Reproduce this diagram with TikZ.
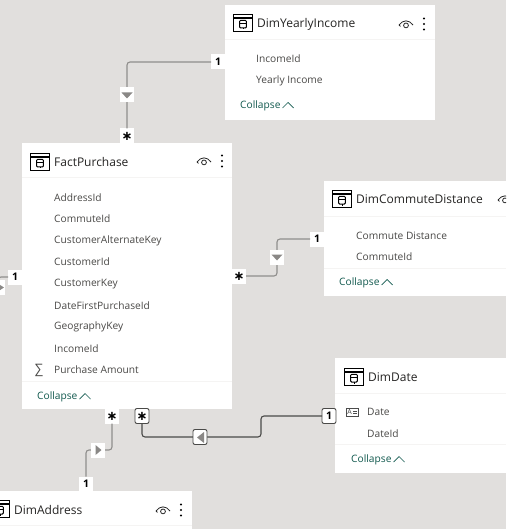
\documentclass[tikz,border=0pt]{standalone}
\usepackage{fontspec}
\setmainfont{Open Sans}
\newfontfamily\djv{DejaVu Sans}
\definecolor{canvas}{HTML}{E1DFDD}
\definecolor{rowtxt}{HTML}{4A4947}
\definecolor{titletxt}{HTML}{252423}
\definecolor{teal}{HTML}{11594E}
\definecolor{rule}{HTML}{F5F4F3}
\definecolor{relgray}{HTML}{8F8E8C}
\definecolor{reldark}{HTML}{4A4A48}
\definecolor{trigray}{HTML}{8A8886}
\tikzset{
  x=1pt,y=-1pt,
  card/.style={fill=white,draw=none,anchor=north west,inner sep=0pt,outer sep=0pt},
  titletext/.style={anchor=west,inner sep=0pt,yshift=-1pt,text=titletxt,font=\fontsize{12}{14}\selectfont},
  rowtext/.style={anchor=west,inner sep=0pt,yshift=-1pt,text=rowtxt,font=\fontsize{10.2}{12}\selectfont},
  collapsetext/.style={anchor=west,inner sep=0pt,yshift=-1pt,text=teal,font=\fontsize{10.2}{12}\selectfont},
  divider/.style={draw=rule,line width=1pt},
  rel/.style={draw=relgray,line width=1.1pt,rounded corners=3pt},
  reldk/.style={draw=reldark,line width=1.1pt,rounded corners=3pt},
  lab/.style={fill=white,inner sep=0pt,outer sep=0pt,minimum width=14pt,minimum height=15pt,text=black,font=\fontsize{10.5}{12}\selectfont\bfseries},
  labdk/.style={lab,draw=reldark,line width=0.9pt,rounded corners=2pt},
  btn/.style={fill=white,inner sep=0pt,outer sep=0pt,minimum width=14pt,minimum height=15pt},
  btndk/.style={btn,draw=reldark,line width=0.9pt,rounded corners=2pt},
  tableicon/.pic={
    \draw[black,line width=1.5pt] (-9.3,-8.3) rectangle (9.3,8.3);
    \draw[black,line width=1.3pt] (-9,-5) -- (9,-5);
    \draw[black,line width=1pt,rounded corners=1pt] (-3.4,-2.6) rectangle (3.4,5);
    \draw[black,line width=0.8pt] (-3.4,0) -- (3.4,0);
    \draw[black,line width=0.8pt] (0,5) -- (0,6.5);
  },
  eyeicon/.pic={
    \draw[black!85,line width=0.8pt] (-7,1) .. controls (-3,-4.5) and (3,-4.5) .. (7,1);
    \draw[black!85,line width=0.8pt] (-7,1) -- (-5.5,2.4);
    \draw[black!85,line width=0.8pt] (0,1.4) circle (2.4);
  },
  dotsicon/.pic={
    \fill[black] (0,-5.5) circle (1.1) (0,0) circle (1.1) (0,5.5) circle (1.1);
  },
  chevronicon/.pic={
    \draw[teal,line width=0.7pt] (-5.5,3) -- (0,-2.5) -- (5.5,3);
  }
}
\newcommand{\stargl}{{\djv\fontsize{13}{13}\selectfont\bfseries ∗}}
\begin{document}
\begin{tikzpicture}
\useasboundingbox (0,0) rectangle (506,529);
\clip (0,0) rectangle (506,529);
\fill[canvas] (0,0) rectangle (506,529);

% cards
\node[card,minimum width=210pt,minimum height=115pt] (income) at (225,5) {};
\node[card,minimum width=210pt,minimum height=266pt] (fact) at (22,143) {};
\node[card,minimum width=210pt,minimum height=115pt] (commute) at (324,181) {};
\node[card,minimum width=210pt,minimum height=115pt] (date) at (335,358) {};
\node[card,minimum width=202pt,minimum height=60pt] (address) at (-10,491) {};

% dividers
\draw[divider] (225,40) -- (435,40);
\draw[divider] (22,178) -- (232,178);
\draw[divider] (22,381) -- (232,381);
\draw[divider] (324,216) -- (506,216);
\draw[divider] (324,268) -- (506,268);
\draw[divider] (335,393) -- (506,393);
\draw[divider] (335,444) -- (506,444);
\draw[divider] (0,525) -- (192,525);

% titles and icons
\pic at (243,23) {tableicon};
\node[titletext] (t1) at (257,23) {DimYearlyIncome};
\pic at (406,24) {eyeicon};
\pic at (424,24) {dotsicon};

\pic at (40,162) {tableicon};
\node[titletext] (t2) at (54,161) {FactPurchase};
\pic at (204,161) {eyeicon};
\pic at (222,161) {dotsicon};

\pic at (342,199) {tableicon};
\node[titletext] (t3) at (356,198) {DimCommuteDistance};
\pic at (505,199) {eyeicon};

\pic at (354,377) {tableicon};
\node[titletext] (t4) at (368,376) {DimDate};

\pic at (0,509) {tableicon};
\node[titletext] (t5) at (14,509) {DimAddress};
\pic at (163,510) {eyeicon};
\pic at (181,510) {dotsicon};

% rows
\node[rowtext] (i1) at (256,58) {IncomeId};
\node[rowtext] (i2) at (256,80) {Yearly Income};
\node[collapsetext] (i3) at (240,105) {Collapse};
\pic at (288,105) {chevronicon};

\node[rowtext] (f1) at (54,197) {AddressId};
\node[rowtext] (f2) at (54,218) {CommuteId};
\node[rowtext] (f3) at (54,240) {CustomerAlternateKey};
\node[rowtext] (f4) at (54,261) {CustomerId};
\node[rowtext] (f5) at (54,283) {CustomerKey};
\node[rowtext] (f6) at (54,305) {DateFirstPurchaseId};
\node[rowtext] (f7) at (54,326) {GeographyKey};
\node[rowtext] (f8) at (54,348) {IncomeId};
\node[rowtext] (f9) at (54,369) {Purchase Amount};
\node[anchor=center,inner sep=0pt,text=rowtxt,font=\fontsize{13}{13}\selectfont] (fs) at (39,370) {∑};
\node[collapsetext] (f10) at (37,396) {Collapse};
\pic at (85,396) {chevronicon};

\node[rowtext] (c1) at (356,235) {Commute Distance};
\node[rowtext] (c2) at (356,256) {CommuteId};
\node[collapsetext] (c3) at (339,282) {Collapse};
\pic at (387,282) {chevronicon};

\node[rowtext] (d1) at (367,411) {Date};
\node[rowtext] (d2) at (367,433) {DateId};
\node[collapsetext] (d3) at (351,459) {Collapse};
\pic at (399,459) {chevronicon};
% field type icon
\draw[black!70,line width=0.7pt] (346,408) rectangle (358.5,416);
\node[inner sep=0pt,text=black!75,font=\fontsize{7}{7}\selectfont] (da) at (349.5,412) {A};
\draw[black!70,line width=0.6pt] (353,410.8) -- (357,410.8) (353,413.2) -- (357,413.2);

% cardinality labels
\node[lab] (incone) at (218,62) {1};
\node[lab] (incstar) at (127,136) {\stargl};
\node[lab] (comone) at (317,239) {1};
\node[lab] (comstar) at (239,276) {\stargl};
\node[lab] (leftone) at (15,277) {1};
\node[lab] (addrstar) at (112,416) {\stargl};
\node[lab] (addrone) at (86,484) {1};
\node[labdk] (datestar) at (142,416) {\stargl};
\node[labdk] (dateone) at (329,416) {1};

% connector way-points
\coordinate (incmid) at (127,95);
\coordinate (commid) at (277,257);
\coordinate (leftmid) at (-2,287);
\coordinate (addrmid) at (98,450);
\coordinate (datemid) at (200,437);
\coordinate (datejog) at (261,426);

% connectors
\draw[rel] (incone.west) -| (incmid) -- (incstar.north);
\draw[rel] (comone.west) -| (commid) |- (comstar.east);
\draw[rel] (leftone.west) -| (leftmid);
\draw[rel] (addrstar.south) |- (addrmid) -| (addrone.north);
\draw[reldk] (datestar.south) |- (datemid) -| (datejog) |- (dateone.west);

% direction buttons
\node[btn] (incbtn) at (incmid) {};
\fill[trigray] (121.5,92.5) -- (132.5,92.5) -- (127,98.5) -- cycle;
\node[btn] (combtn) at (commid) {};
\fill[trigray] (271.5,254.5) -- (282.5,254.5) -- (277,260.5) -- cycle;
\node[btn] (leftbtn) at (leftmid) {};
\fill[trigray] (-3,283) -- (4,287.5) -- (-3,292) -- cycle;
\node[btn] (addrbtn) at (addrmid) {};
\fill[trigray] (95.5,445) -- (101.5,450) -- (95.5,455) -- cycle;
\node[btndk] (datebtn) at (datemid) {};
\fill[trigray] (204,432) -- (197,437.5) -- (204,443) -- cycle;
\end{tikzpicture}
\end{document}
